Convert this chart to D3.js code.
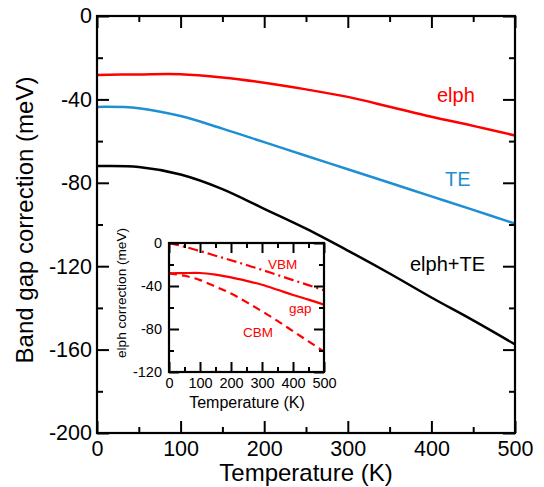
<!DOCTYPE html>
<html>
<head>
<meta charset="utf-8">
<script src="https://cdn.jsdelivr.net/npm/d3@7"></script>
<style>
  body { margin: 0; background: #fff; }
  svg { display: block; font-family: "Liberation Sans", Arial, sans-serif; }
</style>
</head>
<body>
<div id="chart"></div>
<script>
// temperatures (K)
const temps = [0, 50, 100, 150, 200, 250, 300, 350, 400, 450, 500];

// main panel series (meV)
const elph  = [-28.3, -28.0, -27.9, -29.5, -32.0, -35.2, -38.8, -43.5, -48.3, -52.7, -57.3];
const te    = [-43.6, -44.2, -48.0, -54.0, -60.5, -67.0, -73.5, -80.0, -86.5, -93.0, -99.6];
const total = [-72.0, -72.4, -76.0, -83.0, -92.5, -102.0, -112.5, -123.5, -135.0, -146.0, -157.5];

// inset series (meV)
const gap = [-28.3, -28.0, -27.9, -29.5, -32.0, -35.2, -38.8, -43.5, -48.3, -52.7, -57.3];
const vbm = [0, -3.5, -7.5, -11.8, -16.0, -20.5, -25.0, -29.8, -34.5, -39.2, -44.0];
const cbm = [-28.3, -30.5, -34.5, -40.5, -47.0, -55.0, -63.5, -72.5, -82.0, -91.5, -101.0];

// ticks
const xTicks = [0, 100, 200, 300, 400, 500];
const xMinor = [50, 150, 250, 350, 450];
const yTicks = [0, -40, -80, -120, -160, -200];
const yMinor = [-20, -60, -100, -140, -180];
const iyTicks = [0, -40, -80, -120];
const iyMinor = [-20, -60, -100];

const width = 544, height = 487;
const red = '#ff0000', blue = '#1f8fd2';
const fmt = d => String(d);   // plain hyphen minus, like the original

const svg = d3.select('#chart').append('svg')
    .attr('width', width).attr('height', height);

// ---- main panel
const x = d3.scaleLinear().domain([0, 500]).range([97, 515]);
const y = d3.scaleLinear().domain([0, -200]).range([16, 433]);

function frame(g, xs, ys, big, small, xt, xm, yt, ym, font, padX, padY) {
    const [x0, x1] = xs.range(), [y0, y1] = ys.range();
    const tick = g => g.call(g => g.select('.domain').remove())
        .call(g => g.selectAll('line').attr('stroke', '#000').attr('stroke-width', 2));
    g.append('g').attr('transform', `translate(0,${y1})`)
        .call(d3.axisBottom(xs).tickValues(xt).tickSize(-big).tickPadding(padX).tickFormat(fmt))
        .call(tick)
        .call(g => g.selectAll('text').style('font-size', font + 'px').attr('fill', '#000'));
    g.append('g').attr('transform', `translate(0,${y1})`)
        .call(d3.axisBottom(xs).tickValues(xm).tickSize(-small).tickFormat('')).call(tick);
    g.append('g').attr('transform', `translate(0,${y0})`)
        .call(d3.axisTop(xs).tickValues(xt).tickSize(-big).tickFormat('')).call(tick);
    g.append('g').attr('transform', `translate(0,${y0})`)
        .call(d3.axisTop(xs).tickValues(xm).tickSize(-small).tickFormat('')).call(tick);
    g.append('g').attr('transform', `translate(${x0},0)`)
        .call(d3.axisLeft(ys).tickValues(yt).tickSize(-big).tickPadding(padY).tickFormat(fmt))
        .call(tick)
        .call(g => g.selectAll('text').style('font-size', font + 'px').attr('fill', '#000'));
    g.append('g').attr('transform', `translate(${x0},0)`)
        .call(d3.axisLeft(ys).tickValues(ym).tickSize(-small).tickFormat('')).call(tick);
    g.append('g').attr('transform', `translate(${x1},0)`)
        .call(d3.axisRight(ys).tickValues(yt).tickSize(-big).tickFormat('')).call(tick);
    g.append('g').attr('transform', `translate(${x1},0)`)
        .call(d3.axisRight(ys).tickValues(ym).tickSize(-small).tickFormat('')).call(tick);
    g.append('rect')
        .attr('x', x0).attr('y', y0).attr('width', x1 - x0).attr('height', y1 - y0)
        .attr('fill', 'none').attr('stroke', '#000').attr('stroke-width', 2.2);
}

const line = (xs, ys) => d3.line()
    .curve(d3.curveCatmullRom)
    .x((d, i) => xs(temps[i]))
    .y(d => ys(d));

const main = svg.append('g');
const mainLine = line(x, y);
[[elph, red], [te, blue], [total, '#000']].forEach(([s, c]) => {
    main.append('path').attr('d', mainLine(s))
        .attr('fill', 'none').attr('stroke', c).attr('stroke-width', 2.5);
});
frame(main, x, y, 12, 6, xTicks, xMinor, yTicks, yMinor, 21.5, 8, 5);

main.append('text').attr('x', 306).attr('y', 481).attr('text-anchor', 'middle')
    .style('font-size', '24px').text('Temperature (K)');
main.append('text').attr('transform', 'translate(33,220) rotate(-90)').attr('text-anchor', 'middle')
    .style('font-size', '24px').text('Band gap correction (meV)');

const lab = [['elph', 437, 102, red], ['TE', 445, 186, blue], ['elph+TE', 410, 271, '#000']];
lab.forEach(([t, lx, ly, c]) => main.append('text').attr('x', lx).attr('y', ly)
    .attr('fill', c).style('font-size', '20px').text(t));

// ---- inset
const ix = d3.scaleLinear().domain([0, 500]).range([169, 324]);
const iy = d3.scaleLinear().domain([0, -120]).range([243, 372]);
const inset = svg.append('g');
inset.append('rect').attr('x', 169).attr('y', 243).attr('width', 155).attr('height', 129).attr('fill', '#fff');
const insetLine = line(ix, iy);
[[gap, null], [vbm, '10,4,2,4'], [cbm, '8,5']].forEach(([s, dash]) => {
    inset.append('path').attr('d', insetLine(s))
        .attr('fill', 'none').attr('stroke', red).attr('stroke-width', 2.2)
        .attr('stroke-dasharray', dash);
});
frame(inset, ix, iy, 10, 5, xTicks, xMinor, iyTicks, iyMinor, 14.5, 6, 7);

inset.append('text').attr('x', 247).attr('y', 408).attr('text-anchor', 'middle')
    .style('font-size', '16px').text('Temperature (K)');
inset.append('text').attr('transform', 'translate(126,293) rotate(-90)').attr('text-anchor', 'middle')
    .style('font-size', '13.6px').text('elph correction (meV)');

const ilab = [['VBM', 268, 269], ['gap', 289, 313], ['CBM', 243, 337]];
ilab.forEach(([t, lx, ly]) => inset.append('text').attr('x', lx).attr('y', ly)
    .attr('fill', red).style('font-size', '13.5px').text(t));
</script>
</body>
</html>
